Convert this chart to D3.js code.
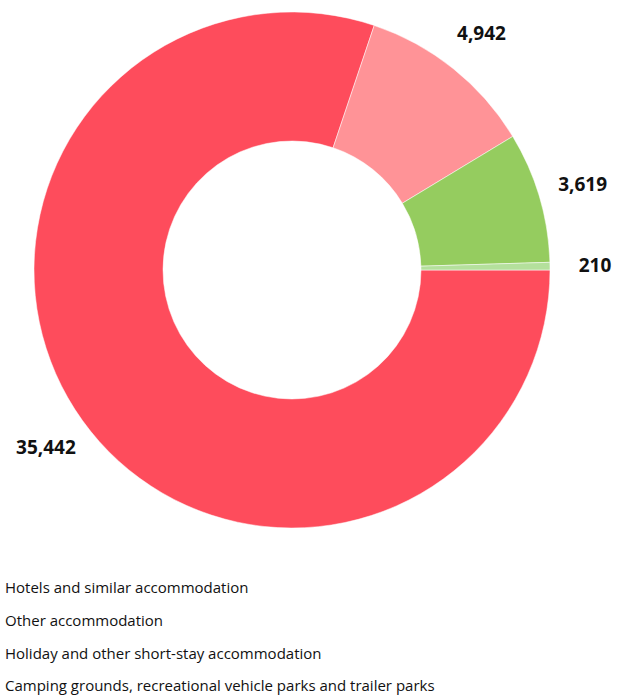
<!DOCTYPE html>
<html>
<head>
<meta charset="utf-8">
<script src="https://cdn.jsdelivr.net/npm/d3@7"></script>
<style>
  body { margin: 0; background: #fff; }
  svg { display: block; font-family: "Open Sans", "Noto Sans", sans-serif; }
</style>
</head>
<body>
<svg id="chart" width="622" height="696"></svg>
<script>
var categories = [
    'Hotels and similar accommodation',
    'Other accommodation',
    'Holiday and other short-stay accommodation',
    'Camping grounds, recreational vehicle parks and trailer parks'
];
var values = [35442, 4942, 3619, 210];
var labels = ['35,442', '4,942', '3,619', '210'];
var colors = ['#fe4c5c', '#ff9397', '#95cc5f', '#b4e09c'];

var width = 622,
    height = 696,
    cx = 292,
    cy = 270,
    outerR = 258,
    innerR = 129,
    labelR = 303;

var svg = d3.select('#chart');

var pie = d3.pie()
    .sort(null)
    .startAngle(Math.PI / 2)
    .endAngle(Math.PI / 2 + 2 * Math.PI)
    .value(function (d) { return d; });

var arcs = pie(values);

var arc = d3.arc().innerRadius(innerR).outerRadius(outerR);
var labelArc = d3.arc().innerRadius(labelR).outerRadius(labelR);

var g = svg.append('g')
    .attr('transform', 'translate(' + cx + ',' + cy + ')');

g.selectAll('path')
    .data(arcs)
  .enter().append('path')
    .attr('d', arc)
    .attr('fill', function (d, i) { return colors[i]; })
    .attr('stroke', '#fff')
    .attr('stroke-width', 0.5);

g.selectAll('text')
    .data(arcs)
  .enter().append('text')
    .attr('transform', function (d) { return 'translate(' + labelArc.centroid(d) + ')'; })
    .attr('text-anchor', 'middle')
    .attr('dy', '0.35em')
    .style('font-size', '19px')
    .style('font-weight', 'bold')
    .style('fill', '#111')
    .text(function (d, i) { return labels[i]; });

var legend = svg.append('g')
    .attr('transform', 'translate(5,588)');

legend.selectAll('text')
    .data(categories)
  .enter().append('text')
    .attr('x', 0)
    .attr('y', function (d, i) { return i * 32.7; })
    .attr('dy', '0.35em')
    .style('font-size', '15px')
    .style('fill', '#111')
    .text(function (d) { return d; });
</script>
</body>
</html>
